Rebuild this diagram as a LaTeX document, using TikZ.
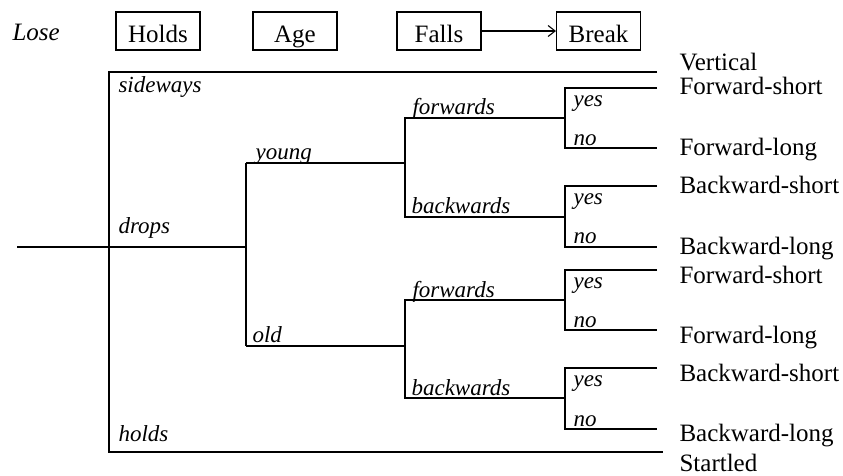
\documentclass[tikz,border=0pt]{standalone}
\usepackage{fontspec}
\setmainfont{Liberation Serif}
\usetikzlibrary{arrows.meta}
\begin{document}
\begin{tikzpicture}[x=1pt,y=-1pt, line width=1.1pt,
  box/.style={draw, minimum width=84pt, minimum height=38pt, inner sep=0pt, text height=22pt, text depth=0pt, font=\fontsize{25}{30}\selectfont},
  lab/.style={anchor=base west, inner sep=0pt, font=\fontsize{23}{28}\selectfont\itshape},
  outlab/.style={anchor=base west, inner sep=0pt, font=\fontsize{25}{30}\selectfont}]
\useasboundingbox (0,0) rectangle (843,475);
% header
\node[anchor=base west, inner sep=0pt, font=\fontsize{25}{30}\selectfont\itshape] (lose) at (12,40) {Lose};
\node[box] (holds) at (158,31) {Holds};
\node[box] (age) at (295,31) {Age};
\node[box] (falls) at (439,31) {Falls};
\node[box] (break) at (598.5,31) {Break};
\draw[-{Straight Barb[length=7pt,width=11pt]}] (falls) -- (break);
% coordinates
\coordinate (rootS) at (17,247);
\coordinate (rootJ) at (109,247);
\coordinate (top0) at (109,72);
\coordinate (topE) at (657,72);
\coordinate (bot0) at (109,452);
\coordinate (botE) at (663,452);
\coordinate (dropE) at (246,247);
\coordinate (yA) at (246,163);
\coordinate (oA) at (246,346);
\coordinate (yB) at (405,163);
\coordinate (oB) at (405,346);
% young subtree
\coordinate (yF0) at (405,118);
\coordinate (yF1) at (565,118);
\coordinate (yK0) at (405,217);
\coordinate (yK1) at (565,217);
\coordinate (yFy0) at (565,88);
\coordinate (yFy1) at (657,88);
\coordinate (yFn0) at (565,148);
\coordinate (yFn1) at (657,148);
\coordinate (yKy0) at (565,186);
\coordinate (yKy1) at (657,186);
\coordinate (yKn0) at (565,247);
\coordinate (yKn1) at (657,247);
% old subtree
\coordinate (oF0) at (405,300);
\coordinate (oF1) at (565,300);
\coordinate (oK0) at (405,398);
\coordinate (oK1) at (565,398);
\coordinate (oFy0) at (565,270);
\coordinate (oFy1) at (657,270);
\coordinate (oFn0) at (565,330);
\coordinate (oFn1) at (657,330);
\coordinate (oKy0) at (565,368);
\coordinate (oKy1) at (657,368);
\coordinate (oKn0) at (565,429);
\coordinate (oKn1) at (657,429);
% lines
\draw (topE) -- (top0) -- (bot0) -- (botE);
\draw (rootS) -- (rootJ) -- (dropE);
\draw (yA) -- (oA);
\draw (yA) -- (yB);
\draw (oA) -- (oB);
\draw (yF1) -- (yF0) -- (yK0) -- (yK1);
\draw (oF1) -- (oF0) -- (oK0) -- (oK1);
\draw (yFy1) -- (yFy0) -- (yFn0) -- (yFn1);
\draw (yKy1) -- (yKy0) -- (yKn0) -- (yKn1);
\draw (oFy1) -- (oFy0) -- (oFn0) -- (oFn1);
\draw (oKy1) -- (oKy0) -- (oKn0) -- (oKn1);
% branch labels
\node[lab] (lside) at (118,92) {sideways};
\node[lab] (ldrop) at (118,233) {drops};
\node[lab] (lhold) at (118,441) {holds};
\node[lab] (lyoung) at (255,159) {young};
\node[lab] (lold) at (252,342) {old};
\node[lab] (lyf) at (412,114) {forwards};
\node[lab] (lyk) at (411,213) {backwards};
\node[lab] (lof) at (412,297) {forwards};
\node[lab] (lok) at (411,395) {backwards};
\node[lab] (lyfy) at (573,106) {yes};
\node[lab] (lyfn) at (573,145) {no};
\node[lab] (lyky) at (573,204) {yes};
\node[lab] (lykn) at (573,243) {no};
\node[lab] (lofy) at (573,288) {yes};
\node[lab] (lofn) at (573,327) {no};
\node[lab] (loky) at (573,386) {yes};
\node[lab] (lokn) at (573,426) {no};
% outcome labels
\node[outlab] (o1) at (679,70) {Vertical};
\node[outlab] (o2) at (679,94) {Forward-short};
\node[outlab] (o3) at (679,155) {Forward-long};
\node[outlab] (o4) at (679,193) {Backward-short};
\node[outlab] (o5) at (679,254) {Backward-long};
\node[outlab] (o6) at (679,283) {Forward-short};
\node[outlab] (o7) at (679,343) {Forward-long};
\node[outlab] (o8) at (679,381) {Backward-short};
\node[outlab] (o9) at (679,441) {Backward-long};
\node[outlab] (o10) at (679,471) {Startled};
\end{tikzpicture}
\end{document}
